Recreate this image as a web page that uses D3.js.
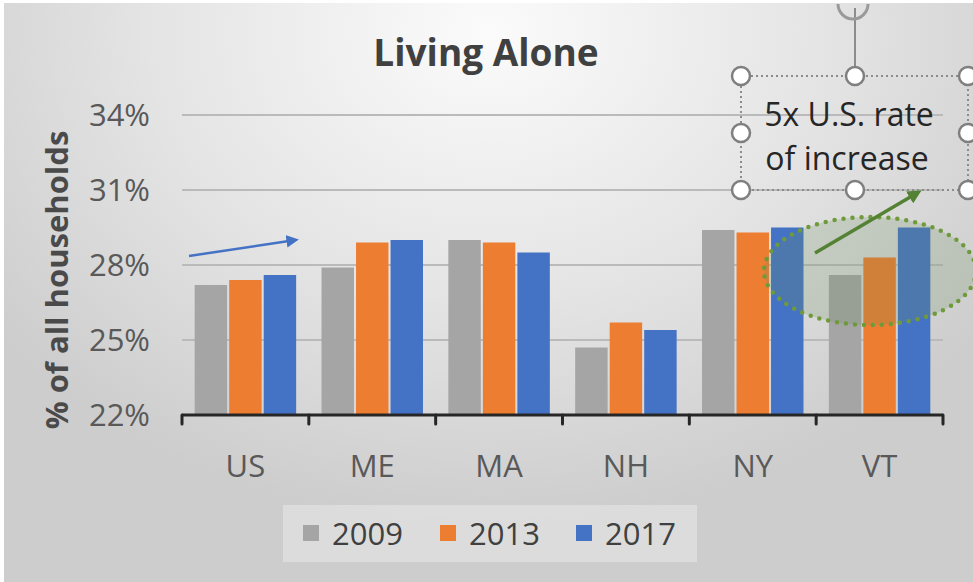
<!DOCTYPE html>
<html>
<head>
<meta charset="utf-8">
<script src="https://cdn.jsdelivr.net/npm/d3@7"></script>
<style>
  body { margin: 0; background: #fff; }
  svg { display: block; font-family: "Open Sans", "Noto Sans", sans-serif; }
</style>
</head>
<body>
<div id="chart"></div>
<script>
// data
const states = ['US', 'ME', 'MA', 'NH', 'NY', 'VT'];
const years = ['2009', '2013', '2017'];
const val2009 = [27.2, 27.9, 29.0, 24.7, 29.4, 27.6];
const val2013 = [27.4, 28.9, 28.9, 25.7, 29.3, 28.3];
const val2017 = [27.6, 29.0, 28.5, 25.4, 29.5, 29.5];
const yTicks = [22, 25, 28, 31, 34];
const colors = ['#a5a5a5', '#ed7d31', '#4472c4'];

const width = 973, height = 582;
const margin = {top: 115, right: 30, bottom: 167, left: 182};

const svg = d3.select('#chart').append('svg')
  .attr('width', width)
  .attr('height', height);

// background, light at the top middle, darker towards the edges
const defs = svg.append('defs');
const grad = defs.append('radialGradient')
  .attr('id', 'bg')
  .attr('cx', '0.5').attr('cy', '0.05').attr('r', '0.85')
  .attr('gradientTransform', 'translate(0.5 0.05) scale(0.75 1) translate(-0.5 -0.05)');
grad.append('stop').attr('offset', '0%').attr('stop-color', '#fbfbfb');
grad.append('stop').attr('offset', '55%').attr('stop-color', '#e4e4e4');
grad.append('stop').attr('offset', '100%').attr('stop-color', '#cdcdcd');

svg.append('rect').attr('width', width).attr('height', height).attr('fill', '#fff');
svg.append('rect')
  .attr('x', 4).attr('y', 3)
  .attr('width', width - 4).attr('height', height - 3)
  .attr('fill', 'url(#bg)');

const innerW = 943 - margin.left;
const innerH = 415 - margin.top;

const x0 = d3.scaleBand()
  .domain(states)
  .range([margin.left, margin.left + innerW])
  .paddingInner(0.2)
  .paddingOuter(0.1);

const x1 = d3.scaleBand()
  .domain(years)
  .range([0, x0.bandwidth()])
  .paddingInner(0.06);

const y = d3.scaleLinear()
  .domain([22, 34])
  .range([margin.top + innerH, margin.top]);

// title
svg.append('text')
  .attr('x', 486).attr('y', 66)
  .attr('text-anchor', 'middle')
  .attr('font-size', 37).attr('font-weight', 700)
  .attr('fill', '#404040')
  .text('Living Alone');

// gridlines
svg.append('g')
  .selectAll('line')
  .data(yTicks.slice(1))
  .join('line')
    .attr('x1', margin.left).attr('x2', margin.left + innerW)
    .attr('y1', d => y(d)).attr('y2', d => y(d))
    .attr('stroke', '#bababa')
    .attr('stroke-width', 2);

// y tick labels
svg.append('g')
  .selectAll('text')
  .data(yTicks)
  .join('text')
    .attr('x', 150)
    .attr('y', d => y(d))
    .attr('dy', '0.36em')
    .attr('text-anchor', 'end')
    .attr('font-size', 31)
    .attr('fill', '#595959')
    .text(d => d + '%');

// y axis title
svg.append('text')
  .attr('transform', 'translate(68,' + 280 + ') rotate(-90)')
  .attr('text-anchor', 'middle')
  .attr('font-size', 31).attr('font-weight', 700)
  .attr('fill', '#4a4a4a')
  .text('% of all households');

// bars
const series = [val2009, val2013, val2017];
const barData = [];
states.forEach((s, i) => {
  years.forEach((yr, j) => barData.push({state: s, year: yr, value: series[j][i], c: colors[j]}));
});

svg.append('g')
  .selectAll('rect')
  .data(barData)
  .join('rect')
    .attr('x', d => x0(d.state) + x1(d.year))
    .attr('y', d => y(d.value))
    .attr('width', x1.bandwidth())
    .attr('height', d => y(22) - y(d.value))
    .attr('fill', d => d.c);

// x axis with ticks between categories
const xAxis = svg.append('g');
xAxis.append('line')
  .attr('x1', margin.left).attr('x2', margin.left + innerW)
  .attr('y1', y(22)).attr('y2', y(22))
  .attr('stroke', '#262626').attr('stroke-width', 3);
const tickX = states.map(s => x0(s) - x0.step() * 0.1).concat([margin.left + innerW]);
xAxis.selectAll('.tick')
  .data(tickX)
  .join('line')
    .attr('class', 'tick')
    .attr('x1', d => d).attr('x2', d => d)
    .attr('y1', y(22)).attr('y2', y(22) + 9)
    .attr('stroke', '#262626').attr('stroke-width', 3)
    .attr('stroke-linecap', 'round');

xAxis.selectAll('.lbl')
  .data(states)
  .join('text')
    .attr('class', 'lbl')
    .attr('x', d => x0(d) + x0.bandwidth() / 2)
    .attr('y', 477)
    .attr('text-anchor', 'middle')
    .attr('font-size', 31)
    .attr('fill', '#595959')
    .text(d => d);

// legend
const legend = svg.append('g');
legend.append('rect')
  .attr('x', 283).attr('y', 505)
  .attr('width', 414).attr('height', 57)
  .attr('fill', '#ffffff').attr('fill-opacity', 0.3);
const legX = [303, 440, 576];
years.forEach((yr, j) => {
  legend.append('rect')
    .attr('x', legX[j]).attr('y', 525)
    .attr('width', 16).attr('height', 16)
    .attr('fill', colors[j]);
  legend.append('text')
    .attr('x', legX[j] + 29).attr('y', 545)
    .attr('font-size', 31)
    .attr('fill', '#404040')
    .text(yr);
});

// blue arrow over US
defs.append('marker')
  .attr('id', 'arrBlue')
  .attr('viewBox', '0 0 10 10').attr('refX', 2).attr('refY', 5)
  .attr('markerWidth', 5).attr('markerHeight', 5)
  .attr('orient', 'auto')
  .append('path').attr('d', 'M0,0 L10,5 L0,10 Z').attr('fill', '#4472c4');
svg.append('line')
  .attr('x1', 189).attr('y1', 256)
  .attr('x2', 289).attr('y2', 241)
  .attr('stroke', '#4472c4').attr('stroke-width', 2.5)
  .attr('marker-end', 'url(#arrBlue)');

// green dotted ellipse round VT
svg.append('ellipse')
  .attr('cx', 870).attr('cy', 271)
  .attr('rx', 106).attr('ry', 54)
  .attr('fill', 'rgba(110,140,90,0.22)')
  .attr('stroke', '#6f9a3c').attr('stroke-width', 4.5)
  .attr('stroke-dasharray', '0 9')
  .attr('stroke-linecap', 'round');

// green arrow
defs.append('marker')
  .attr('id', 'arrGreen')
  .attr('viewBox', '0 0 10 10').attr('refX', 2).attr('refY', 5)
  .attr('markerWidth', 4).attr('markerHeight', 4)
  .attr('orient', 'auto')
  .append('path').attr('d', 'M0,0 L10,5 L0,10 Z').attr('fill', '#548235');
svg.append('line')
  .attr('x1', 815).attr('y1', 253)
  .attr('x2', 912).attr('y2', 196)
  .attr('stroke', '#548235').attr('stroke-width', 3.5)
  .attr('marker-end', 'url(#arrGreen)');

// selected text box with handles
const box = {x1: 741, x2: 968, y1: 76, y2: 190};
const sel = svg.append('g');
sel.append('line')
  .attr('x1', 855).attr('x2', 855).attr('y1', 8).attr('y2', box.y1)
  .attr('stroke', '#8c8c8c').attr('stroke-width', 2);
sel.append('path')
  .attr('d', 'M838,4 A14,14 0 1 0 868,4')
  .attr('fill', 'none').attr('stroke', '#9a9a9a').attr('stroke-width', 3);
sel.append('rect')
  .attr('x', box.x1).attr('y', box.y1)
  .attr('width', box.x2 - box.x1).attr('height', box.y2 - box.y1)
  .attr('fill', 'none')
  .attr('stroke', '#8c8c8c').attr('stroke-width', 2)
  .attr('stroke-dasharray', '2 3');
sel.append('text')
  .attr('x', 849).attr('y', 126)
  .attr('text-anchor', 'middle')
  .attr('font-size', 32)
  .attr('fill', '#262626')
  .text('5x U.S. rate');
sel.append('text')
  .attr('x', 847).attr('y', 170)
  .attr('text-anchor', 'middle')
  .attr('font-size', 32)
  .attr('fill', '#262626')
  .text('of increase');
const handles = [
  [box.x1, box.y1], [855, box.y1], [box.x2, box.y1],
  [box.x1, 133], [box.x2, 133],
  [box.x1, box.y2], [855, box.y2], [box.x2, box.y2]
];
sel.selectAll('circle')
  .data(handles)
  .join('circle')
    .attr('cx', d => d[0]).attr('cy', d => d[1])
    .attr('r', 9)
    .attr('fill', '#fff')
    .attr('stroke', '#7f7f7f').attr('stroke-width', 2.5);
</script>
</body>
</html>
